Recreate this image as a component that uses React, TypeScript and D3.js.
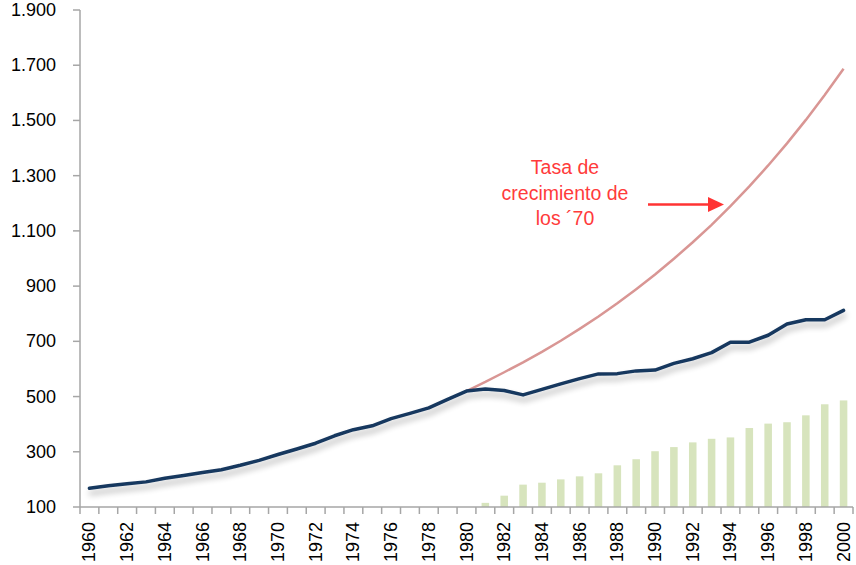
import React from "react";
import * as d3 from "d3";

const years: number[] = [
  1960, 1961, 1962, 1963, 1964, 1965, 1966, 1967, 1968, 1969,
  1970, 1971, 1972, 1973, 1974, 1975, 1976, 1977, 1978, 1979,
  1980, 1981, 1982, 1983, 1984, 1985, 1986, 1987, 1988, 1989,
  1990, 1991, 1992, 1993, 1994, 1995, 1996, 1997, 1998, 1999, 2000,
];

const actual: number[] = [
  168, 177, 184, 191, 204, 214, 225, 235, 251, 269,
  290, 310, 331, 358, 380, 394, 420, 439, 459, 490,
  520, 527, 522, 506, 526, 546, 565, 582, 583, 593,
  596, 620, 637, 659, 697, 697, 722, 763, 778, 778, 812,
];

const trendYears: number[] = [
  1980, 1981, 1982, 1983, 1984, 1985, 1986, 1987, 1988, 1989,
  1990, 1991, 1992, 1993, 1994, 1995, 1996, 1997, 1998, 1999, 2000,
];
const trend70s: number[] = [
  520, 553, 588, 624, 662, 702, 745, 790, 838, 889,
  942, 999, 1059, 1122, 1190, 1261, 1337, 1417, 1502, 1592, 1687,
];

const barYears: number[] = [
  1981, 1982, 1983, 1984, 1985, 1986, 1987, 1988, 1989, 1990,
  1991, 1992, 1993, 1994, 1995, 1996, 1997, 1998, 1999, 2000,
];
const barValues: number[] = [
  115, 141, 181, 188, 200, 211, 222, 251, 273, 302,
  317, 334, 347, 352, 386, 402, 407, 432, 472, 486,
];

const yTicks: number[] = [100, 300, 500, 700, 900, 1100, 1300, 1500, 1700, 1900];
const xLabelYears: number[] = years.filter((y) => y % 2 === 0);

const annotationLines: string[] = ["Tasa de", "crecimiento de", "los ´70"];

const W = 856;
const H = 565;
const left = 80;
const right = 853;
const top = 10;
const bottom = 507;
const FONT = "'Liberation Sans', Arial, sans-serif";
const AXIS = "#a6a6a6";

const fmt = d3
  .formatLocale({ decimal: ",", thousands: ".", grouping: [3], currency: ["", ""] })
  .format(",d");

export default function App() {
  const x = d3
    .scaleBand<number>()
    .domain(years)
    .range([left, right])
    .paddingInner(0)
    .paddingOuter(0);
  const y = d3.scaleLinear().domain([100, 1900]).range([bottom, top]);
  const bw = x.bandwidth();
  const cx = (yr: number) => (x(yr) as number) + bw / 2;

  const line = d3
    .line<[number, number]>()
    .x((d) => cx(d[0]))
    .y((d) => y(d[1]));

  const actualPath = line(years.map((yr, i) => [yr, actual[i]]));
  const trendPath = line(
    trendYears.map((yr, i) => [yr, trend70s[i]]) as [number, number][]
  );

  const tickXs = years.map((yr) => x(yr) as number).concat([right]);

  return (
    <svg
      width={W}
      height={H}
      style={{ position: "fixed", left: 0, top: 0, background: "#fff" }}
    >
      <defs>
        <filter id="shadow" x="-5%" y="-20%" width="110%" height="160%">
          <feGaussianBlur in="SourceAlpha" stdDeviation="3" />
          <feOffset dx="1" dy="5" result="ob" />
          <feComponentTransfer>
            <feFuncA type="linear" slope="0.3" />
          </feComponentTransfer>
          <feMerge>
            <feMergeNode />
            <feMergeNode in="SourceGraphic" />
          </feMerge>
        </filter>
      </defs>

      {/* bars */}
      {barYears.map((yr, i) => {
        const w = bw * 0.4;
        return (
          <rect
            key={yr}
            x={cx(yr) - w / 2}
            y={y(barValues[i])}
            width={w}
            height={bottom - y(barValues[i])}
            fill="#d7e4bd"
          />
        );
      })}

      {/* y axis */}
      <line x1={left} x2={left} y1={top} y2={bottom} stroke={AXIS} strokeWidth={1.5} />
      {yTicks.map((t) => (
        <g key={t}>
          <line x1={left - 7} x2={left} y1={y(t)} y2={y(t)} stroke={AXIS} strokeWidth={1.5} />
          <text
            x={56}
            y={y(t)}
            textAnchor="end"
            dominantBaseline="central"
            fontFamily={FONT}
            fontSize={18}
            fill="#000"
          >
            {fmt(t)}
          </text>
        </g>
      ))}

      {/* x axis */}
      <line x1={left} x2={right} y1={bottom} y2={bottom} stroke={AXIS} strokeWidth={1.5} />
      {tickXs.map((tx, i) => (
        <line key={i} x1={tx} x2={tx} y1={bottom} y2={bottom + 7} stroke={AXIS} strokeWidth={1.5} />
      ))}
      {xLabelYears.map((yr) => (
        <text
          key={yr}
          transform={`translate(${cx(yr)},${bottom + 15}) rotate(-90)`}
          textAnchor="end"
          dominantBaseline="central"
          fontFamily={FONT}
          fontSize={18}
          fill="#000"
        >
          {yr}
        </text>
      ))}

      {/* lines */}
      <path d={trendPath || ""} fill="none" stroke="#d99694" strokeWidth={2.5} />
      <path
        d={actualPath || ""}
        fill="none"
        stroke="#17375e"
        strokeWidth={3.5}
        strokeLinejoin="round"
        strokeLinecap="round"
        filter="url(#shadow)"
      />

      {/* annotation */}
      {annotationLines.map((s, i) => (
        <text
          key={i}
          x={565}
          y={174 + i * 25.5}
          textAnchor="middle"
          fontFamily={FONT}
          fontSize={19.5}
          fill="#ff3b3b"
        >
          {s}
        </text>
      ))}
      <line x1={648} x2={710} y1={204.5} y2={204.5} stroke="#ff3333" strokeWidth={2.5} />
      <path d="M708,197 L724,204.5 L708,212 Z" fill="#ff3333" />
    </svg>
  );
}
